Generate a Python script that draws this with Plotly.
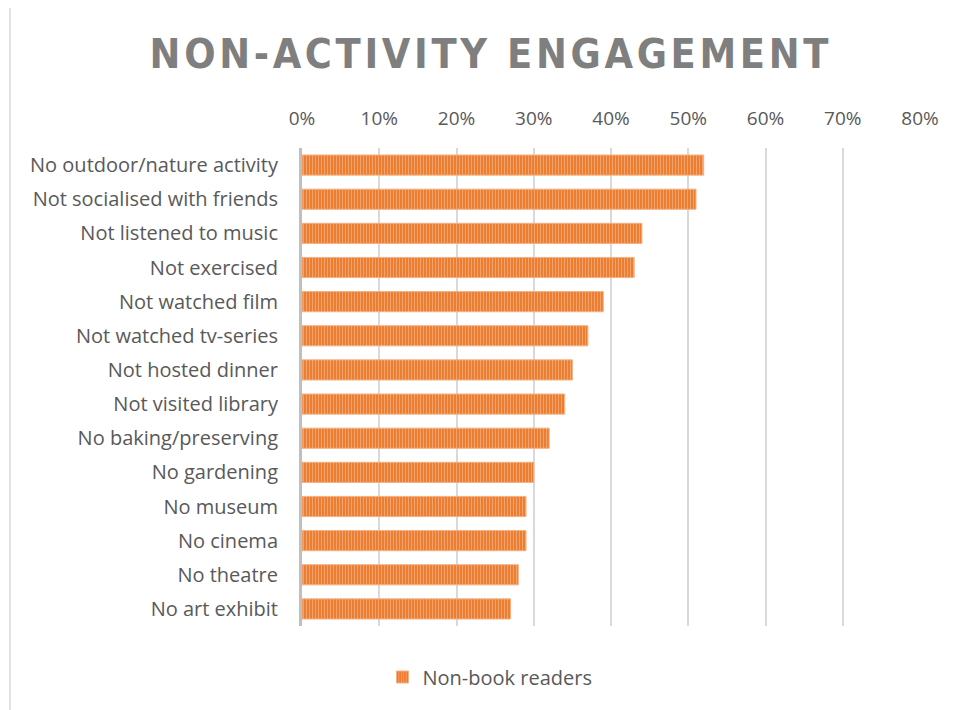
import plotly.graph_objects as go

categories = [
    "No outdoor/nature activity",
    "Not socialised with friends",
    "Not listened to music",
    "Not exercised",
    "Not watched film",
    "Not watched tv-series",
    "Not hosted dinner",
    "Not visited library",
    "No baking/preserving",
    "No gardening",
    "No museum",
    "No cinema",
    "No theatre",
    "No art exhibit",
]
values = [0.52, 0.51, 0.44, 0.43, 0.39, 0.37, 0.35, 0.34, 0.32, 0.30, 0.29, 0.29, 0.28, 0.27]
series_name = "Non-book readers"
tick_vals = [0, 0.1, 0.2, 0.3, 0.4, 0.5, 0.6, 0.7, 0.8]
tick_text = ["0%", "10%", "20%", "30%", "40%", "50%", "60%", "70%", "80%"]
title_text = "NON-ACTIVITY ENGAGEMENT"

# page body has an 8px margin: compensate so the screenshot lines up
OFF = 8
W, H = 959 - OFF, 710 - OFF
ML, MT = 302 - OFF, 148 - OFF
PLOT_R, PLOT_B = 920 - OFF, 626 - OFF
MR, MB = W - PLOT_R, H - PLOT_B
PW, PH = PLOT_R - ML, PLOT_B - MT

def px_x(p):
    return (p - OFF - ML) / PW

def px_y(p):
    return (PLOT_B - (p - OFF)) / PH

spaced_title = "\u200a".join(list(title_text))

fig = go.Figure()
fig.add_trace(go.Bar(
    y=categories,
    x=values,
    orientation="h",
    name=series_name,
    showlegend=True,
    marker=dict(
        color="#ED7D31",
        line=dict(color="#F4B183", width=1),
        pattern=dict(shape="|", fgcolor="#F8CBAD", bgcolor="#ED7D31", size=3, solidity=0.35),
    ),
))

fig.update_layout(
    width=W, height=H,
    margin=dict(l=ML, r=MR, t=MT, b=MB),
    paper_bgcolor="white",
    plot_bgcolor="white",
    bargap=0.41,
    font=dict(family="Open Sans", size=20, color="#595959"),
    title=dict(
        text=spaced_title,
        x=(489 - OFF) / W, xref="container", xanchor="center",
        y=1 - (54 - OFF) / H, yref="container", yanchor="middle",
        font=dict(family="DejaVu Sans Condensed",
                  size=41, color="#7F7F7F", weight="bold"),
    ),
    xaxis=dict(
        side="top",
        range=[0, 0.8],
        tickvals=tick_vals,
        ticktext=tick_text,
        showgrid=True,
        gridcolor="#D9D9D9",
        gridwidth=2,
        zeroline=False,
        showline=False,
        ticks="",
        ticklabelstandoff=18,
        tickfont=dict(size=19, color="#595959"),
        fixedrange=True,
    ),
    yaxis=dict(
        autorange="reversed",
        showline=True,
        linecolor="#BFBFBF",
        linewidth=3,
        ticks="",
        ticklabelstandoff=17,
        tickfont=dict(size=20, color="#595959"),
        showgrid=False,
        zeroline=False,
    ),
    legend=dict(
        orientation="h",
        x=px_x(490), xanchor="center",
        y=px_y(677), yanchor="middle",
        font=dict(size=20, color="#595959"),
        itemwidth=30,
    ),
    shapes=[
        dict(type="rect", xref="paper", yref="paper",
             x0=px_x(10), x1=px_x(990), y0=px_y(740), y1=px_y(5.5),
             line=dict(color="#D9D9D9", width=1.5), fillcolor="rgba(0,0,0,0)", layer="below"),
    ],
)

fig.write_html("out.html")
